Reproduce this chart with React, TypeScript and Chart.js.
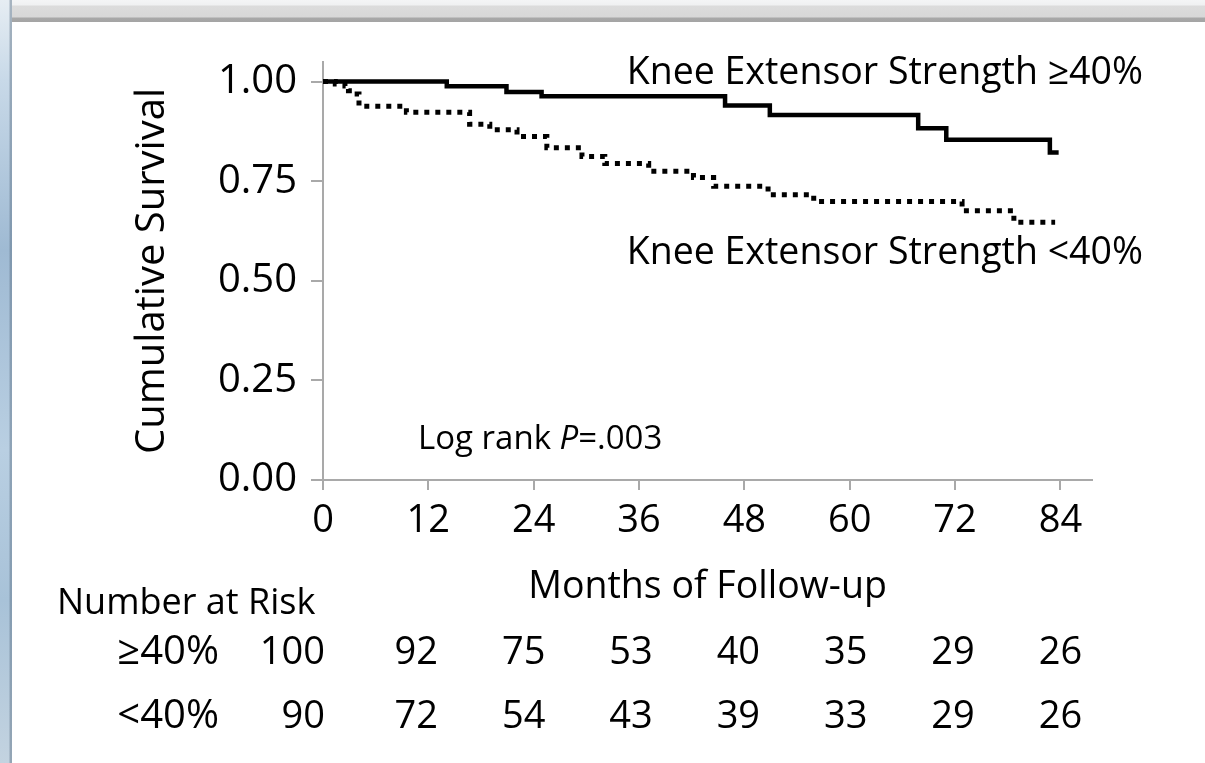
import React, { useEffect, useRef } from "react";
import { Chart, registerables } from "chart.js";

Chart.register(...registerables);

// ---- data ----
const monthTicks = [0, 12, 24, 36, 48, 60, 72, 84];
const survivalTicks = [0, 0.25, 0.5, 0.75, 1.0];

const strongMonths = [0, 14.1, 20.9, 24.9, 45.8, 50.9, 67.8, 71.0, 82.8, 83.8];
const strongSurvival = [1.0, 0.988, 0.974, 0.963, 0.94, 0.916, 0.883, 0.854, 0.822, 0.822];

const weakMonths = [0, 1.4, 2.5, 2.9, 3.6, 4.1, 9.5, 16.7, 19.0, 22.1, 25.5, 29.5, 32.1, 37.1, 42.2, 44.5, 50.7, 55.9, 72.8, 78.7, 83.4];
const weakSurvival = [1.0, 0.994, 0.989, 0.977, 0.969, 0.938, 0.923, 0.893, 0.879, 0.862, 0.834, 0.812, 0.794, 0.775, 0.759, 0.737, 0.716, 0.699, 0.676, 0.647, 0.647];

const riskStrong = [100, 92, 75, 53, 40, 35, 29, 26];
const riskWeak = [90, 72, 54, 43, 39, 33, 29, 26];
const groupLabels = ["≥40%", "<40%"];
const curveLabels = ["Knee Extensor Strength ≥40%", "Knee Extensor Strength <40%"];
const xTitle = "Months of Follow-up";
const yTitle = "Cumulative Survival";
const riskTitle = "Number at Risk";
const logRankParts = ["Log rank ", "P", "=.003"];

const FONT = '"Open Sans", "Noto Sans", sans-serif';
const AXIS_GREY = "#a9a9a9";
const INK = "#000";

const annotationPlugin = {
  id: "kmAnnotations",
  afterDraw(chart: any) {
    const { ctx, chartArea, scales } = chart;
    const xs = scales.x;
    ctx.save();
    ctx.fillStyle = INK;
    ctx.textBaseline = "alphabetic";
    ctx.font = `37.5px ${FONT}`;

    // curve labels
    ctx.textAlign = "right";
    ctx.fillText(curveLabels[0], chartArea.right + 51, chartArea.top + 22);
    ctx.fillText(curveLabels[1], chartArea.right + 51, chartArea.top + 202);

    // log rank
    ctx.textAlign = "left";
    ctx.font = `33px ${FONT}`;
    let lx = xs.getPixelForValue(0) + 95;
    const ly = chartArea.bottom - 31;
    ctx.fillText(logRankParts[0], lx, ly);
    lx += ctx.measureText(logRankParts[0]).width;
    ctx.font = `italic 33px ${FONT}`;
    ctx.fillText(logRankParts[1], lx, ly);
    lx += ctx.measureText(logRankParts[1]).width;
    ctx.font = `33px ${FONT}`;
    ctx.fillText(logRankParts[2], lx, ly);

    // number at risk table
    ctx.font = `36px ${FONT}`;
    ctx.textAlign = "left";
    ctx.fillText(riskTitle, 57, chartArea.bottom + 134);
    const rows = [riskStrong, riskWeak];
    const rowY = [chartArea.bottom + 184, chartArea.bottom + 248];
    rows.forEach((row, r) => {
      ctx.font = `40px ${FONT}`;
      ctx.textAlign = "right";
      ctx.fillText(groupLabels[r], 219, rowY[r]);
      ctx.font = `38px ${FONT}`;
      row.forEach((v, i) => {
        const px = xs.getPixelForValue(monthTicks[i]);
        if (i === 0) {
          ctx.textAlign = "right";
          ctx.fillText(String(v), px + 2, rowY[r]);
        } else {
          ctx.textAlign = "center";
          ctx.fillText(String(v), px - 14 + i * 2, rowY[r]);
        }
      });
    });
    ctx.restore();
  },
};

export default function App() {
  const canvasRef = useRef<HTMLCanvasElement | null>(null);

  useEffect(() => {
    const canvas = canvasRef.current;
    if (!canvas) return;
    const chart = new Chart(canvas, {
      type: "line",
      data: {
        datasets: [
          {
            label: curveLabels[0],
            data: strongMonths.map((m, i) => ({ x: m, y: strongSurvival[i] })),
            borderColor: "#000",
            borderWidth: 4.5,
            stepped: "before",
            pointRadius: 0,
            fill: false,
            borderCapStyle: "butt",
            borderJoinStyle: "miter",
          },
          {
            label: curveLabels[1],
            data: weakMonths.map((m, i) => ({ x: m, y: weakSurvival[i] })),
            borderColor: "#000",
            borderWidth: 5,
            borderDash: [5, 6],
            stepped: "before",
            pointRadius: 0,
            fill: false,
            borderCapStyle: "butt",
            borderJoinStyle: "miter",
          },
        ],
      },
      options: {
        animation: false,
        responsive: false,
        devicePixelRatio: 1,
        layout: { padding: { left: 0, right: 113, top: 62, bottom: 153 } },
        plugins: {
          legend: { display: false },
          tooltip: { enabled: false },
        },
        scales: {
          x: {
            type: "linear",
            min: 0,
            max: 87.6,
            afterFit: (s: any) => {
              s.height = 130;
            },
            afterBuildTicks: (s: any) => {
              s.ticks = monthTicks.map((v) => ({ value: v }));
            },
            ticks: {
              color: INK,
              font: { family: FONT, size: 38 },
              padding: 8,
              maxRotation: 0,
              autoSkip: false,
            },
            grid: {
              drawOnChartArea: false,
              drawTicks: true,
              tickLength: 10,
              color: AXIS_GREY,
              lineWidth: 2,
            },
            border: { color: AXIS_GREY, width: 2 },
            title: {
              display: true,
              text: xTitle,
              color: INK,
              font: { family: FONT, size: 37.5 },
              padding: { top: 0, bottom: 0 },
            },
          },
          y: {
            type: "linear",
            min: 0,
            max: 1.049,
            afterFit: (s: any) => {
              s.width = 323;
            },
            afterBuildTicks: (s: any) => {
              s.ticks = survivalTicks.map((v) => ({ value: v }));
            },
            ticks: {
              color: INK,
              font: { family: FONT, size: 40 },
              padding: 14,
              callback: (v: any) => Number(v).toFixed(2),
            },
            grid: {
              drawOnChartArea: false,
              drawTicks: true,
              tickLength: 12,
              color: AXIS_GREY,
              lineWidth: 2,
            },
            border: { color: AXIS_GREY, width: 2 },
            title: {
              display: true,
              text: yTitle,
              color: INK,
              font: { family: FONT, size: 40 },
              padding: { top: 129, bottom: 0 },
            },
          },
        },
      },
      plugins: [annotationPlugin],
    });
    return () => chart.destroy();
  }, []);

  return (
    <div
      style={{
        position: "fixed",
        left: 0,
        top: 0,
        width: 1205,
        height: 763,
        background: "#fff",
        overflow: "hidden",
      }}
    >
      <canvas
        ref={canvasRef}
        width={1205}
        height={763}
        style={{ position: "absolute", left: 0, top: 0, width: 1205, height: 763 }}
      />
      <div
        style={{
          position: "absolute",
          left: 0,
          top: 0,
          width: 1205,
          height: 22,
          background:
            "linear-gradient(to bottom, #f4f5f6 0px, #f0f1f2 5px, #dcdcdc 6px, #d8d8d8 17px, #a8a8a8 18px, #a4a4a4 22px)",
        }}
      />
      <div
        style={{
          position: "absolute",
          left: 0,
          top: 0,
          width: 12,
          height: 763,
          background:
            "linear-gradient(to right, rgba(0,0,0,0) 0px, rgba(0,0,0,0) 9px, rgba(90,110,130,0.45) 10px, rgba(90,110,130,0.45) 12px), linear-gradient(to bottom, #e6edf3 0px, #c8d9e8 80px, #9fbad3 250px, #b9cfe2 450px, #a8c2d8 600px, #c3d3e0 763px)",
        }}
      />
    </div>
  );
}
